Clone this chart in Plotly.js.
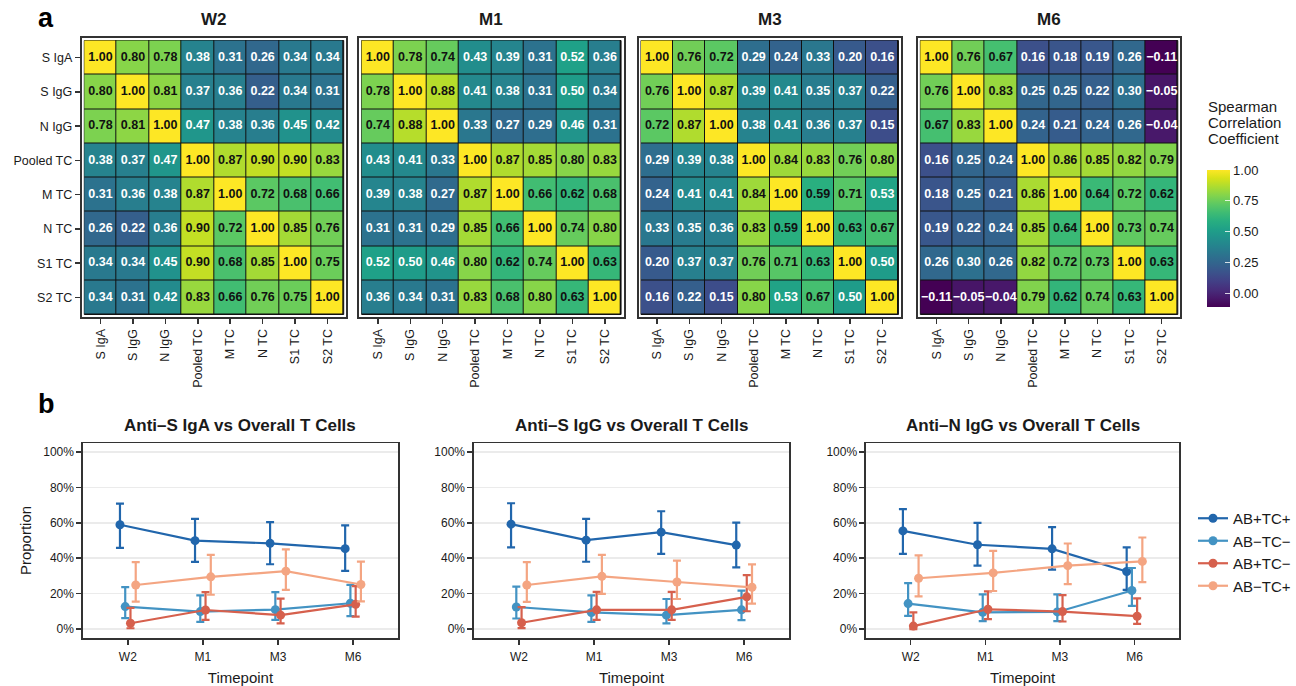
<!DOCTYPE html>
<html><head><meta charset="utf-8">
<script src="https://cdn.plot.ly/plotly-3.0.1.min.js"></script>
<style>html,body{margin:0;padding:0;background:#fff}#chart{width:1296px;height:686px}</style>
</head><body><div id="chart"></div>
<script>
// ---------- DATA ----------
const heatCats = ["S IgA","S IgG","N IgG","Pooled TC","M TC","N TC","S1 TC","S2 TC"];
const heatTitles = ["W2","M1","M3","M6"];
const corrW2 = [
[1.00,0.80,0.78,0.38,0.31,0.26,0.34,0.34],
[0.80,1.00,0.81,0.37,0.36,0.22,0.34,0.31],
[0.78,0.81,1.00,0.47,0.38,0.36,0.45,0.42],
[0.38,0.37,0.47,1.00,0.87,0.90,0.90,0.83],
[0.31,0.36,0.38,0.87,1.00,0.72,0.68,0.66],
[0.26,0.22,0.36,0.90,0.72,1.00,0.85,0.76],
[0.34,0.34,0.45,0.90,0.68,0.85,1.00,0.75],
[0.34,0.31,0.42,0.83,0.66,0.76,0.75,1.00]];
const corrM1 = [
[1.00,0.78,0.74,0.43,0.39,0.31,0.52,0.36],
[0.78,1.00,0.88,0.41,0.38,0.31,0.50,0.34],
[0.74,0.88,1.00,0.33,0.27,0.29,0.46,0.31],
[0.43,0.41,0.33,1.00,0.87,0.85,0.80,0.83],
[0.39,0.38,0.27,0.87,1.00,0.66,0.62,0.68],
[0.31,0.31,0.29,0.85,0.66,1.00,0.74,0.80],
[0.52,0.50,0.46,0.80,0.62,0.74,1.00,0.63],
[0.36,0.34,0.31,0.83,0.68,0.80,0.63,1.00]];
const corrM3 = [
[1.00,0.76,0.72,0.29,0.24,0.33,0.20,0.16],
[0.76,1.00,0.87,0.39,0.41,0.35,0.37,0.22],
[0.72,0.87,1.00,0.38,0.41,0.36,0.37,0.15],
[0.29,0.39,0.38,1.00,0.84,0.83,0.76,0.80],
[0.24,0.41,0.41,0.84,1.00,0.59,0.71,0.53],
[0.33,0.35,0.36,0.83,0.59,1.00,0.63,0.67],
[0.20,0.37,0.37,0.76,0.71,0.63,1.00,0.50],
[0.16,0.22,0.15,0.80,0.53,0.67,0.50,1.00]];
const corrM6 = [
[1.00,0.76,0.67,0.16,0.18,0.19,0.26,-0.11],
[0.76,1.00,0.83,0.25,0.25,0.22,0.30,-0.05],
[0.67,0.83,1.00,0.24,0.21,0.24,0.26,-0.04],
[0.16,0.25,0.24,1.00,0.86,0.85,0.82,0.79],
[0.18,0.25,0.21,0.86,1.00,0.64,0.72,0.62],
[0.19,0.22,0.24,0.85,0.64,1.00,0.73,0.74],
[0.26,0.30,0.26,0.82,0.72,0.73,1.00,0.63],
[-0.11,-0.05,-0.04,0.79,0.62,0.74,0.63,1.00]];

const timepoints = ["W2","M1","M3","M6"];
const seriesNames = ["AB+TC+","AB\u2212TC\u2212","AB+TC\u2212","AB\u2212TC+"];
const lineTitles = ["Anti\u2013S IgA vs Overall T Cells","Anti\u2013S IgG vs Overall T Cells","Anti\u2013N IgG vs Overall T Cells"];
const pctTicks = [0, 20, 40, 60, 80, 100];
const colorbarTitle = ["Spearman","Correlation","Coefficient"];

// Anti-S IgA panel (percent): mean, lower, upper per series
const igaMean  = [[58.9,49.9,48.4,45.4],[12.7,9.9,11.0,14.6],[3.3,10.8,7.9,14.0],[24.9,29.5,32.7,25.2]];
const igaLower = [[45.8,37.9,36.6,32.9],[6.2,4.1,5.2,7.3],[0.5,5.2,3.2,7.1],[15.5,19.4,22.2,15.7]];
const igaUpper = [[70.8,62.2,60.4,58.5],[23.7,19.1,20.9,25.0],[12.0,20.9,17.2,24.3],[37.8,41.9,45.0,38.1]];
// Anti-S IgG panel
const sigMean  = [[59.2,50.2,54.7,47.4],[12.5,9.4,7.9,10.9],[3.6,10.9,10.9,18.2],[24.9,29.8,26.6,23.6]];
const sigLower = [[46.1,38.0,42.5,34.8],[6.0,4.1,3.2,5.1],[0.6,5.2,5.2,10.1],[15.4,19.9,17.0,14.4]];
const sigUpper = [[71.0,62.2,66.5,60.1],[24.0,19.1,17.0,21.7],[12.4,21.0,21.0,30.5],[37.8,41.9,38.6,36.5]];
// Anti-N IgG panel
const nigMean  = [[55.4,47.6,45.3,32.5],[14.4,9.5,9.7,21.8],[1.7,11.2,9.9,7.3],[28.7,31.7,35.8,38.2]];
const nigLower = [[42.4,35.8,33.6,22.2],[7.5,4.5,4.5,13.1],[0.0,5.6,4.3,3.0],[18.5,21.5,25.4,26.5]];
const nigUpper = [[67.7,59.9,57.6,46.1],[25.9,19.6,19.6,34.5],[9.5,21.3,19.2,17.4],[41.6,44.2,48.3,51.7]];

// ---------- STYLE / LAYOUT ----------
const W = 1296, H = 686;
const fx = p => p / W, fy = p => 1 - p / H;
const FONT = 'Liberation Sans, Arial, Helvetica, sans-serif';
const TXT = '#1a1a1a';
const seriesColors = ['#2166ac','#4393c3','#d6604d','#f4a582'];
const dodge = [-0.105,-0.035,0.035,0.105];

const heatMats = [corrW2, corrM1, corrM3, corrM6];
const heatX = [[82,347],[360,625],[640,903],[920,1183]];
const heatY = [38,317];
const n = heatCats.length;
const idx = heatCats.map((_, i) => i);
const padX = 2.5 / ((heatX[0][1]-heatX[0][0]-5)/n);
const padY = 2.5 / ((heatY[1]-heatY[0]-5)/n);

const traces = [];
const shapes = [];
const annotations = [];
const layout = {
  width: W, height: H,
  margin: {l:0, r:0, t:0, b:0},
  paper_bgcolor: '#fff', plot_bgcolor: '#fff',
  font: {family: FONT, color: TXT},
  showlegend: true,
  legend: {x: fx(1196), xanchor: 'left', y: fy(502), yanchor: 'top',
           font: {size: 15, color: TXT}, itemwidth: 30, tracegroupgap: 0, bgcolor: 'rgba(0,0,0,0)'},
  shapes: shapes, annotations: annotations
};

heatMats.forEach((z, i) => {
  const ax = i === 0 ? '' : String(i + 1);
  const colorbar = {
    x: fx(1210), xanchor: 'left', xpad: 0, ypad: 0,
    y: fy(307), yanchor: 'bottom', len: 137 / H, lenmode: 'fraction',
    thickness: 23, thicknessmode: 'pixels', outlinewidth: 0,
    tickvals: [0, 0.25, 0.5, 0.75, 1], ticktext: ['0.00','0.25','0.50','0.75','1.00'],
    ticks: 'inside', ticklen: 5, tickcolor: 'rgba(255,255,255,0.8)', tickwidth: 1,
    tickfont: {size: 13, color: TXT, family: FONT}
  };
  traces.push({
    type: 'heatmap', z: z, x: idx, y: idx, xaxis: 'x' + ax, yaxis: 'y' + ax,
    colorscale: 'Viridis', zmin: -0.11, zmax: 1, xgap: 1, ygap: 1,
    showscale: i === 3, colorbar: colorbar, hoverinfo: 'skip', showlegend: false
  });
  const tx = [], ty = [], tt = [], tc = [];
  z.forEach((row, r) => row.forEach((v, c) => {
    tx.push(c); ty.push(r);
    tt.push((v < 0 ? '\u2212' : '') + Math.abs(v).toFixed(2));
    tc.push(v < 0.55 ? '#ffffff' : '#111111');
  }));
  traces.push({
    type: 'scatter', mode: 'text', x: tx, y: ty, text: tt,
    textfont: {family: FONT, size: 12.5, color: tc, weight: 'bold'},
    xaxis: 'x' + ax, yaxis: 'y' + ax, hoverinfo: 'skip', showlegend: false
  });
  layout['xaxis' + ax] = {
    domain: [fx(heatX[i][0]), fx(heatX[i][1])], anchor: 'y' + ax,
    range: [-0.5 - padX, n - 0.5 + padX], tickvals: idx, ticktext: heatCats, tickangle: -90,
    ticks: 'outside', ticklen: 5, tickwidth: 1.5, tickcolor: '#333',
    showline: true, mirror: true, linecolor: '#333', linewidth: 2,
    showgrid: false, zeroline: false, tickfont: {size: 12.5, color: TXT}, fixedrange: true
  };
  layout['yaxis' + ax] = {
    domain: [fy(heatY[1]), fy(heatY[0])], anchor: 'x' + ax,
    range: [n - 0.5 + padY, -0.5 - padY], tickvals: idx, ticktext: heatCats,
    showticklabels: i === 0,
    ticks: i === 0 ? 'outside' : '', ticklen: 5, tickwidth: 1.5, tickcolor: '#333',
    showline: true, mirror: true, linecolor: '#333', linewidth: 2,
    showgrid: false, zeroline: false, tickfont: {size: 12.5, color: TXT}, fixedrange: true
  };
  shapes.push({type: 'rect', xref: 'x' + ax, yref: 'y' + ax, x0: -0.5, x1: n - 0.5, y0: -0.5, y1: n - 0.5,
               fillcolor: '#111', line: {color: '#111', width: 1}, layer: 'below'});
  annotations.push({text: '<b>' + heatTitles[i] + '</b>', xref: 'paper', yref: 'paper',
    x: fx((heatX[i][0] + heatX[i][1]) / 2), y: fy(19), xanchor: 'center', yanchor: 'middle',
    showarrow: false, font: {size: 17, color: TXT}});
});

colorbarTitle.forEach((t, k) => {
  annotations.push({text: t, xref: 'paper', yref: 'paper',
    x: fx(1209), y: fy(107 + k * 15.5), xanchor: 'left', yanchor: 'middle', showarrow: false,
    font: {size: 15, color: TXT}});
});
annotations.push({text: '<b>a</b>', xref: 'paper', yref: 'paper', x: fx(36), y: fy(18),
  xanchor: 'left', yanchor: 'middle', showarrow: false, font: {size: 27, color: '#000'}});
annotations.push({text: '<b>b</b>', xref: 'paper', yref: 'paper', x: fx(36), y: fy(404),
  xanchor: 'left', yanchor: 'middle', showarrow: false, font: {size: 27, color: '#000'}});

// ---------- LINE PANELS ----------
const linePanels = [[igaMean, igaLower, igaUpper],[sigMean, sigLower, sigUpper],[nigMean, nigLower, nigUpper]];
const lineX = [[83,399],[475,791],[868,1182]];
const lineY = [443,638];
linePanels.forEach((pd, p) => {
  const ax = String(p + 5);
  const [means, lows, highs] = pd;
  means.forEach((m, s) => {
    traces.push({
      type: 'scatter', mode: 'lines+markers', name: seriesNames[s], legendgroup: seriesNames[s],
      showlegend: p === 0,
      x: timepoints.map((t, k) => k + dodge[s]), y: m,
      error_y: {type: 'data', symmetric: false,
        array: m.map((v, k) => highs[s][k] - v), arrayminus: m.map((v, k) => v - lows[s][k]),
        color: seriesColors[s], thickness: 2.2, width: 4},
      line: {color: seriesColors[s], width: 2.2},
      marker: {color: seriesColors[s], size: 9},
      xaxis: 'x' + ax, yaxis: 'y' + ax, hoverinfo: 'x+y'
    });
  });
  layout['xaxis' + ax] = {
    domain: [fx(lineX[p][0]), fx(lineX[p][1])], anchor: 'y' + ax,
    range: [-0.6, timepoints.length - 0.4], tickvals: timepoints.map((t, k) => k), ticktext: timepoints,
    ticks: 'outside', ticklen: 5, tickwidth: 1.5, tickcolor: '#333', ticklabelstandoff: 2,
    showline: true, mirror: true, linecolor: '#333', linewidth: 1.5,
    showgrid: false, zeroline: false, tickfont: {size: 12, color: TXT},
    title: {text: 'Timepoint', font: {size: 15, color: TXT}, standoff: 9}, fixedrange: true
  };
  layout['yaxis' + ax] = {
    domain: [fy(lineY[1]), fy(lineY[0])], anchor: 'x' + ax,
    range: [-5, 105], tickvals: pctTicks, ticktext: pctTicks.map(v => v + '%'),
    ticks: 'outside', ticklen: 5, tickwidth: 1.5, tickcolor: '#333',
    showline: true, mirror: true, linecolor: '#333', linewidth: 1.5,
    showgrid: true, gridcolor: '#ebebeb', gridwidth: 1.5, zeroline: false,
    tickfont: {size: 12, color: TXT}, fixedrange: true,
    title: p === 0 ? {text: 'Proportion', font: {size: 15, color: TXT}, standoff: 8} : {text: ''}
  };
  annotations.push({text: '<b>' + lineTitles[p] + '</b>', xref: 'paper', yref: 'paper',
    x: fx((lineX[p][0] + lineX[p][1]) / 2), y: fy(425), xanchor: 'center', yanchor: 'middle',
    showarrow: false, font: {size: 17, color: TXT}});
});

Plotly.newPlot('chart', traces, layout, {displayModeBar: false, staticPlot: true});
</script>
</body></html>
